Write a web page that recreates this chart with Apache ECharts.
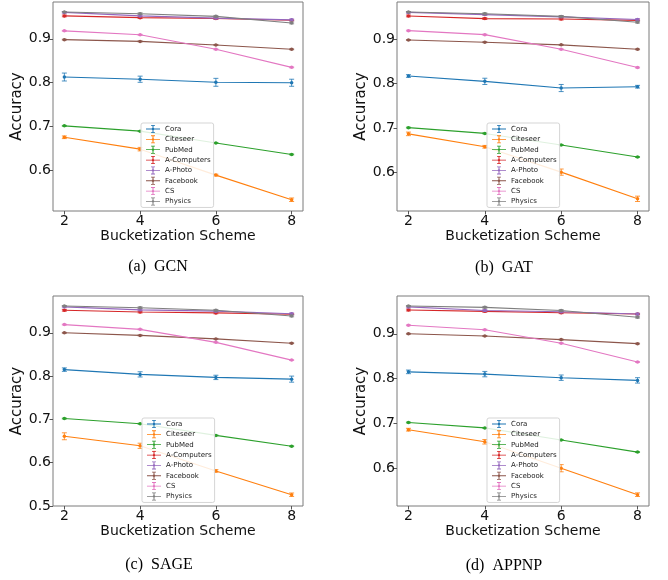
<!DOCTYPE html>
<html><head><meta charset="utf-8">
<script src="https://cdn.jsdelivr.net/npm/echarts@6/dist/echarts.min.js"></script>
<style>html,body{margin:0;padding:0;background:#fff}#c{width:668px;height:580px}</style>
</head><body><div id="c"></div>
<script>
const xValues = [2, 4, 6, 8];
const xTickValues = [2, 4, 6, 8];
const yTickValues = [0.5, 0.6, 0.7, 0.8, 0.9];
const datasetNames = ['Cora', 'Citeseer', 'PubMed', 'A-Computers', 'A-Photo', 'Facebook', 'CS', 'Physics'];
const captions = ['(a)  GCN', '(b)  GAT', '(c)  SAGE', '(d)  APPNP'];
const xAxisTitle = 'Bucketization Scheme';
const yAxisTitle = 'Accuracy';

// order: Cora, Citeseer, PubMed, A-Computers, A-Photo, Facebook, CS, Physics
const gcnMeans = [
  [0.813, 0.808, 0.801, 0.800],
  [0.676, 0.649, 0.590, 0.534],
  [0.702, 0.690, 0.663, 0.637],
  [0.952, 0.948, 0.946, 0.942],
  [0.960, 0.952, 0.947, 0.943],
  [0.898, 0.894, 0.886, 0.876],
  [0.918, 0.909, 0.876, 0.835],
  [0.961, 0.957, 0.951, 0.936]
];
const gcnErrs = [
  [0.009, 0.007, 0.009, 0.008],
  [0.003, 0.004, 0.002, 0.004],
  [0.001, 0.001, 0.001, 0.001],
  [0.002, 0.002, 0.002, 0.001],
  [0.002, 0.002, 0.002, 0.002],
  [0.001, 0.001, 0.001, 0.001],
  [0.001, 0.001, 0.001, 0.001],
  [0.001, 0.002, 0.002, 0.002]
];
const gatMeans = [
  [0.817, 0.805, 0.790, 0.793],
  [0.687, 0.658, 0.601, 0.541],
  [0.701, 0.688, 0.662, 0.635],
  [0.952, 0.946, 0.945, 0.942],
  [0.960, 0.955, 0.950, 0.944],
  [0.898, 0.893, 0.887, 0.877],
  [0.919, 0.910, 0.877, 0.836],
  [0.961, 0.957, 0.951, 0.938]
];
const gatErrs = [
  [0.003, 0.007, 0.008, 0.003],
  [0.004, 0.003, 0.007, 0.006],
  [0.001, 0.001, 0.001, 0.001],
  [0.002, 0.002, 0.002, 0.001],
  [0.002, 0.002, 0.002, 0.002],
  [0.001, 0.001, 0.001, 0.001],
  [0.001, 0.001, 0.001, 0.001],
  [0.001, 0.002, 0.002, 0.002]
];
const sageMeans = [
  [0.815, 0.804, 0.797, 0.793],
  [0.661, 0.639, 0.581, 0.526],
  [0.702, 0.690, 0.663, 0.638],
  [0.952, 0.948, 0.946, 0.943],
  [0.960, 0.953, 0.950, 0.944],
  [0.900, 0.894, 0.886, 0.876],
  [0.919, 0.908, 0.878, 0.837],
  [0.962, 0.958, 0.952, 0.939]
];
const sageErrs = [
  [0.004, 0.006, 0.005, 0.007],
  [0.008, 0.006, 0.003, 0.004],
  [0.001, 0.001, 0.001, 0.001],
  [0.002, 0.002, 0.002, 0.001],
  [0.002, 0.002, 0.002, 0.002],
  [0.001, 0.001, 0.001, 0.001],
  [0.001, 0.001, 0.001, 0.001],
  [0.001, 0.002, 0.002, 0.002]
];
const appnpMeans = [
  [0.815, 0.810, 0.802, 0.796],
  [0.686, 0.659, 0.600, 0.541],
  [0.702, 0.690, 0.663, 0.636],
  [0.953, 0.950, 0.947, 0.944],
  [0.960, 0.952, 0.949, 0.944],
  [0.900, 0.895, 0.887, 0.878],
  [0.919, 0.909, 0.879, 0.837],
  [0.962, 0.959, 0.952, 0.937]
];
const appnpErrs = [
  [0.004, 0.006, 0.006, 0.006],
  [0.003, 0.005, 0.008, 0.004],
  [0.001, 0.001, 0.001, 0.001],
  [0.002, 0.002, 0.002, 0.001],
  [0.002, 0.002, 0.002, 0.002],
  [0.001, 0.001, 0.001, 0.001],
  [0.001, 0.001, 0.001, 0.001],
  [0.001, 0.002, 0.002, 0.002]
];

const colors = ['#1f77b4', '#ff7f0e', '#2ca02c', '#d62728', '#9467bd', '#8c564b', '#e377c2', '#7f7f7f'];
const panels = [
  {means: gcnMeans, errs: gcnErrs, grid: {left: 53, top: 2, width: 250, height: 209}, legend: {left: 141, top: 123}, cap: [158, 267]},
  {means: gatMeans, errs: gatErrs, grid: {left: 397, top: 2, width: 252, height: 209}, legend: {left: 487, top: 123}, cap: [504, 268]},
  {means: sageMeans, errs: sageErrs, grid: {left: 53, top: 296, width: 250, height: 210}, legend: {left: 142, top: 418}, cap: [159, 565]},
  {means: appnpMeans, errs: appnpErrs, grid: {left: 397, top: 296, width: 252, height: 210}, legend: {left: 487, top: 418}, cap: [504, 566]}
];

const FONT = '"DejaVu Sans", sans-serif';
const grids = [], xAxes = [], yAxes = [], series = [], legends = [], graphics = [];

panels.forEach((p, i) => {
  // matplotlib-like 5% margins around data incl. error bars
  let lo = Infinity, hi = -Infinity;
  p.means.forEach((row, j) => row.forEach((v, k) => {
    lo = Math.min(lo, v - p.errs[j][k]); hi = Math.max(hi, v + p.errs[j][k]);
  }));
  const pad = (hi - lo) * 0.05;
  const yMin = lo - pad, yMax = hi + pad;
  const yTicks = yTickValues.filter(v => v >= yMin - 1e-9 && v <= yMax);

  grids.push(Object.assign({show: true, borderColor: '#7a7a7a', borderWidth: 1, backgroundColor: '#fff'}, p.grid));
  xAxes.push({
    type: 'value', gridIndex: i, min: 1.7, max: 8.3,
    axisLine: {show: false},
    axisTick: {show: true, customValues: xTickValues, length: 3.5, lineStyle: {color: '#555'}},
    axisLabel: {customValues: xTickValues, fontSize: 14, fontFamily: FONT, color: '#111', margin: 3},
    splitLine: {show: false},
    name: xAxisTitle, nameLocation: 'middle', nameGap: 15,
    nameTextStyle: {fontSize: 14, fontFamily: FONT, color: '#111'}
  });
  yAxes.push({
    type: 'value', gridIndex: i, min: yMin, max: yMax,
    axisLine: {show: false},
    axisTick: {show: true, customValues: yTicks, length: 3.5, lineStyle: {color: '#555'}},
    axisLabel: {customValues: yTicks, fontSize: 14, fontFamily: FONT, color: '#111', margin: 2,
      formatter: v => v.toFixed(1)},
    splitLine: {show: false},
    name: yAxisTitle, nameLocation: 'middle', nameGap: 26,
    nameTextStyle: {fontSize: 15, fontFamily: FONT, color: '#111'}
  });

  datasetNames.forEach((name, j) => {
    series.push({
      type: 'line', name: name, xAxisIndex: i, yAxisIndex: i,
      data: xValues.map((x, k) => [x, p.means[j][k]]),
      color: colors[j], symbol: 'circle', symbolSize: 3.5, showSymbol: true,
      lineStyle: {width: 1.1, color: colors[j]}, itemStyle: {color: colors[j]},
      z: 3 + j, silent: true, animation: false
    });
    series.push({
      type: 'custom', name: name, xAxisIndex: i, yAxisIndex: i,
      data: xValues.map((x, k) => [x, p.means[j][k], p.errs[j][k]]),
      encode: {x: 0, y: 1}, z: 3 + j, silent: true, animation: false,
      renderItem: (params, api) => {
        const x = api.value(0), y = api.value(1), e = api.value(2);
        const t = api.coord([x, y + e]), b = api.coord([x, y - e]);
        const st = {stroke: colors[j], lineWidth: 1, opacity: 0.8};
        return {type: 'group', children: [
          {type: 'line', shape: {x1: t[0], y1: t[1], x2: b[0], y2: b[1]}, style: st},
          {type: 'line', shape: {x1: t[0] - 2.5, y1: t[1], x2: t[0] + 2.5, y2: t[1]}, style: st},
          {type: 'line', shape: {x1: b[0] - 2.5, y1: b[1], x2: b[0] + 2.5, y2: b[1]}, style: st}
        ]};
      }
    });
  });

  legends.push({
    data: datasetNames, orient: 'vertical', left: p.legend.left, top: p.legend.top,
    itemWidth: 14, itemHeight: 8, itemGap: 0.35,
    icon: 'path://M0,3.6h14v0.8h-14z M6.5,0h1v8h-1z M5,0h4v0.8h-4z M5,7.2h4v0.8h-4z M5.9,3.1h2.2v1.8h-2.2z',
    textStyle: {fontSize: 7, fontFamily: FONT, color: '#222', lineHeight: 10},
    backgroundColor: 'rgba(255,255,255,0.85)', borderColor: '#d5d5d5', borderWidth: 1, borderRadius: 2,
    padding: [1, 3, 1, 5], selectedMode: false, z: 20
  });

  graphics.push({
    type: 'text', x: p.cap[0], y: p.cap[1], z: 30,
    style: {text: captions[i], textAlign: 'center', textVerticalAlign: 'middle',
      font: '16px "Liberation Serif", serif', fill: '#000'}
  });
});

const chart = echarts.init(document.getElementById('c'), null, {renderer: 'canvas'});
chart.setOption({
  animation: false, backgroundColor: '#fff',
  grid: grids, xAxis: xAxes, yAxis: yAxes, series: series, legend: legends, graphic: graphics
});
</script></body></html>
